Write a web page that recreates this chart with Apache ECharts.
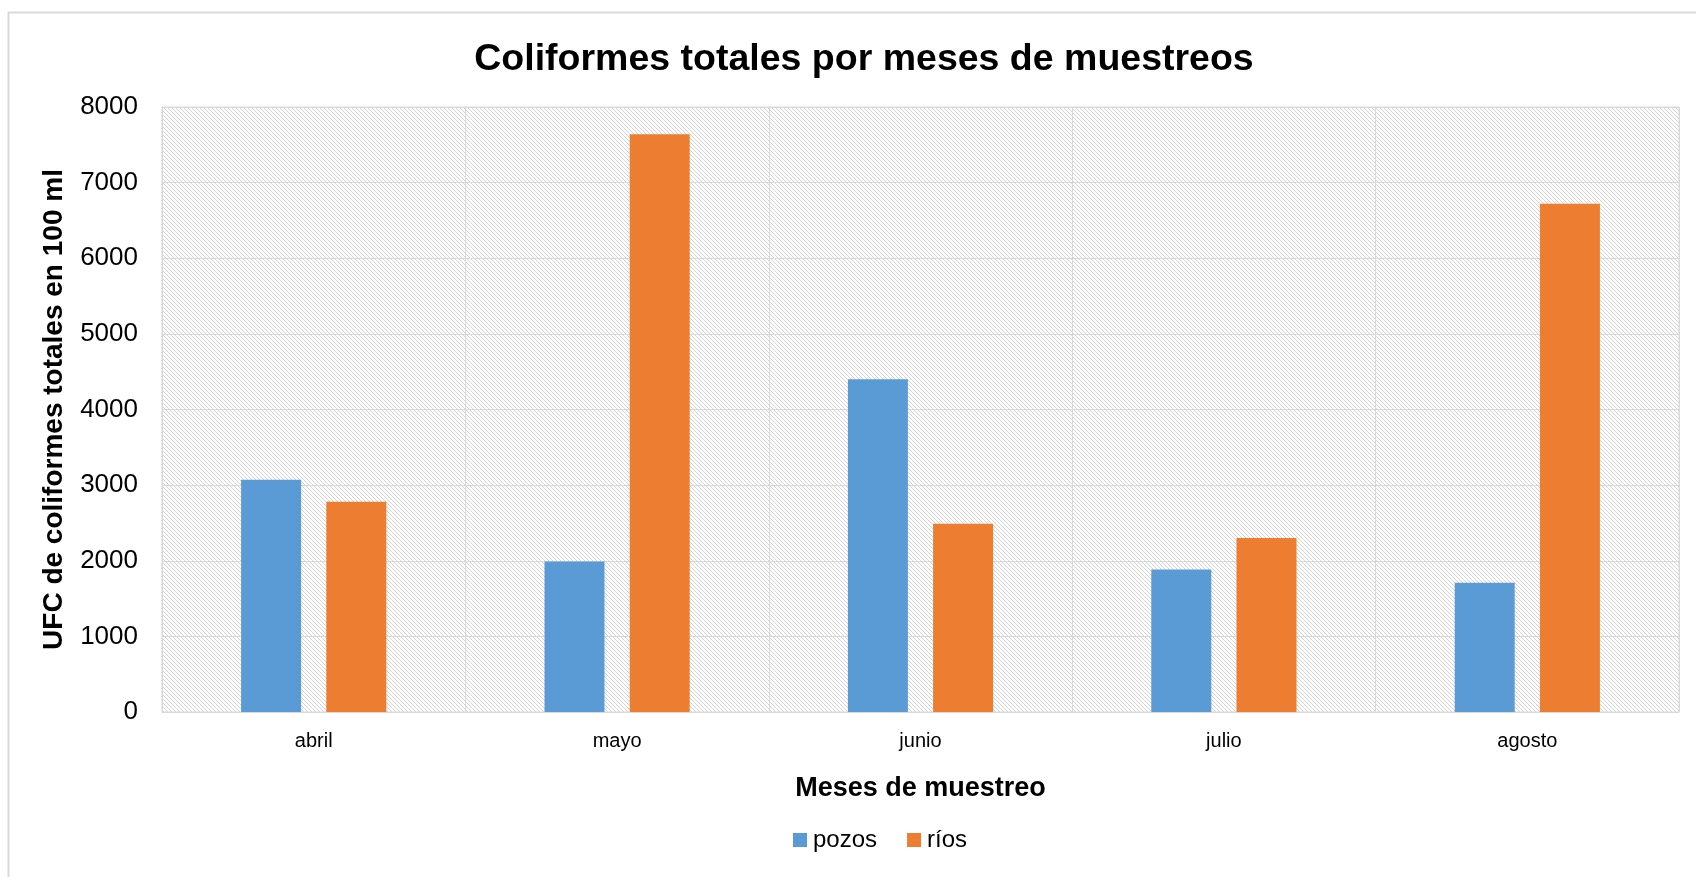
<!DOCTYPE html>
<html>
<head>
<meta charset="utf-8">
<script src="https://cdn.jsdelivr.net/npm/echarts@6/dist/echarts.min.js"></script>
<style>
html,body{margin:0;padding:0;background:#fff;}
#c{width:1696px;height:877px;}
</style>
</head>
<body>
<div id="c"></div>
<script>
const categories = ['abril', 'mayo', 'junio', 'julio', 'agosto'];
const pozos = [3070, 1990, 4400, 1885, 1710];
const rios = [2780, 7640, 2490, 2300, 6720];
const yTicks = { min: 0, max: 8000, interval: 1000 };

const FONT = '"Liberation Sans", Arial, sans-serif';

// hatch pattern
const pc = document.createElement('canvas');
pc.width = 4; pc.height = 4;
const ctx = pc.getContext('2d');
ctx.fillStyle = '#ffffff';
ctx.fillRect(0, 0, 4, 4);
ctx.fillStyle = '#d2d2d2';
for (let i = 0; i < 4; i++) ctx.fillRect(i, i, 1, 1);

const chart = echarts.init(document.getElementById('c'), null, { renderer: 'canvas' });
chart.setOption({
  backgroundColor: '#ffffff',
  animation: false,
  textStyle: { fontFamily: FONT },
  title: {
    text: 'Coliformes totales por meses de muestreos',
    left: 859, top: 36, textAlign: 'center',
    textStyle: { fontFamily: FONT, fontSize: 37.5, fontWeight: 'bold', color: '#000' }
  },
  graphic: [{
    type: 'rect', left: 6, top: 10, silent: true,
    shape: { width: 1720, height: 900 },
    style: { fill: 'none', stroke: '#d9d9d9', lineWidth: 2 }
  }],
  legend: {
    data: ['pozos', 'ríos'],
    left: 793, top: 828, padding: 0,
    itemWidth: 14, itemHeight: 14, itemGap: 30,
    icon: 'rect',
    textStyle: { fontFamily: FONT, fontSize: 24, color: '#000', padding: [0, 0, 0, 1] }
  },
  grid: {
    left: 162, right: 17, top: 107, bottom: 165,
    show: true,
    backgroundColor: { image: pc, repeat: 'repeat' },
    borderColor: '#d9d9d9', borderWidth: 1
  },
  xAxis: {
    type: 'category',
    data: categories,
    name: 'Meses de muestreo',
    nameLocation: 'middle', nameGap: 63,
    nameTextStyle: { fontFamily: FONT, fontSize: 27, fontWeight: 'bold', color: '#000' },
    axisLine: { lineStyle: { color: '#d9d9d9', width: 1 } },
    axisTick: { show: false },
    axisLabel: { fontFamily: FONT, fontSize: 20, color: '#000', margin: 19 },
    splitLine: { show: true, lineStyle: { color: '#d9d9d9', width: 1 } }
  },
  yAxis: {
    type: 'value',
    min: yTicks.min, max: yTicks.max, interval: yTicks.interval,
    name: 'UFC de coliformes totales en 100 ml',
    nameLocation: 'middle', nameGap: 94,
    nameTextStyle: { fontFamily: FONT, fontSize: 28, fontWeight: 'bold', color: '#000' },
    axisLine: { show: true, lineStyle: { color: '#d9d9d9', width: 1 } },
    axisTick: { show: false },
    axisLabel: { fontFamily: FONT, fontSize: 26, color: '#000', margin: 24,
      formatter: function (v) { return String(v); } },
    splitLine: { show: true, lineStyle: { color: '#d9d9d9', width: 1 } }
  },
  series: [
    { name: 'pozos', type: 'bar', data: pozos, barWidth: 60, barGap: '42%',
      itemStyle: { color: '#5b9bd5' } },
    { name: 'ríos', type: 'bar', data: rios, barWidth: 60,
      itemStyle: { color: '#ed7d31' } }
  ]
});
</script>
</body>
</html>
